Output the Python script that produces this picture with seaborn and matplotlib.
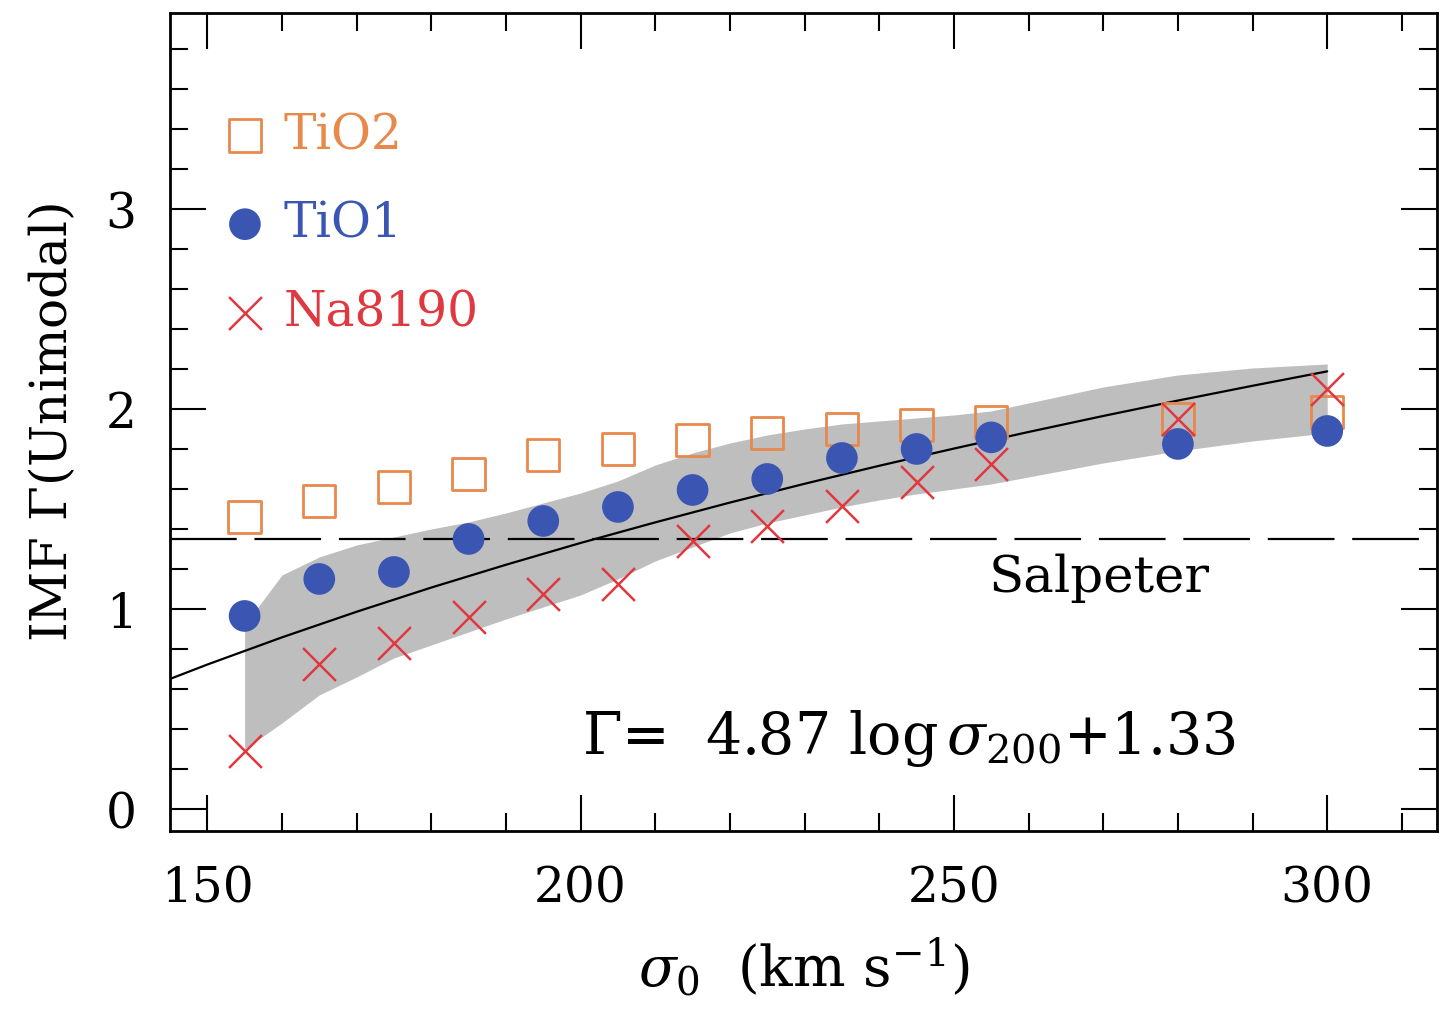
import numpy as np
import pandas as pd
import matplotlib
matplotlib.use("Agg")
import matplotlib.pyplot as plt
from matplotlib.ticker import MultipleLocator
import seaborn as sns

# ---------------- data ----------------
sigma = [155, 165, 175, 185, 195, 205, 215, 225, 235, 245, 255, 280, 300]
tio2 = [1.46, 1.54, 1.61, 1.675, 1.77, 1.80, 1.845, 1.88, 1.90, 1.92, 1.935, 1.95, 1.985]
tio1 = [0.965, 1.15, 1.185, 1.35, 1.44, 1.51, 1.595, 1.65, 1.755, 1.80, 1.858, 1.825, 1.89]
na8190 = [0.29, 0.725, 0.83, 0.958, 1.075, 1.125, 1.34, 1.417, 1.517, 1.633, 1.725, 1.95, 2.10]

band_sigma = [155, 155.01, 160, 165, 170, 175, 180, 185, 190, 195, 200, 205, 210, 215,
              220, 225, 230, 235, 240, 245, 250, 255, 260, 270, 280, 290, 300]
band_low = [0.30, 0.30, 0.43, 0.57, 0.66, 0.755, 0.82, 0.885, 0.95, 1.01, 1.07, 1.15, 1.24, 1.31,
            1.38, 1.43, 1.47, 1.51, 1.545, 1.575, 1.60, 1.625, 1.66, 1.73, 1.79, 1.84, 1.88]
band_high = [0.92, 0.92, 1.17, 1.26, 1.32, 1.36, 1.40, 1.435, 1.48, 1.53, 1.58, 1.64, 1.72, 1.78,
             1.83, 1.87, 1.90, 1.925, 1.94, 1.955, 1.97, 1.99, 2.03, 2.11, 2.17, 2.205, 2.225]

fit_sigma = [145, 150, 160, 170, 180, 190, 200, 210, 220, 230, 240, 250, 260, 270, 280, 290, 300]
fit_gamma = [0.650, 0.722, 0.858, 0.986, 1.107, 1.221, 1.330, 1.433, 1.532, 1.626, 1.716,
             1.802, 1.885, 1.965, 2.042, 2.116, 2.188]

salpeter = 1.35
labels = ["TiO2", "TiO1", "Na8190"]
equation = r"$\Gamma$=  4.87 log$\,\sigma_{200}$+1.33"

# ---------------- style ----------------
sns.set_style("ticks")
plt.rcParams["font.family"] = ["DejaVu Serif"]
plt.rcParams["mathtext.fontset"] = "dejavuserif"
plt.rcParams["text.color"] = "black"
plt.rcParams["axes.labelcolor"] = "black"
plt.rcParams["xtick.labelcolor"] = "black"
plt.rcParams["ytick.labelcolor"] = "black"

c_orange = "#E8894C"
c_blue = "#3A56B2"
c_red = "#E03840"
c_band = "#BEBEBE"

fig = plt.figure(figsize=(14.39, 10.12), dpi=100)
ax = fig.add_axes([0.1181, 0.1779, 0.8805, 0.8083])

ax.fill_between(band_sigma, band_low, band_high, color=c_band, lw=0, zorder=1)

ax.axhline(salpeter, color="black", lw=1.6, dashes=(30, 8), zorder=2)

sns.lineplot(x=fit_sigma, y=fit_gamma, color="black", lw=1.6, ax=ax, zorder=3)

df = pd.DataFrame({"sigma": sigma, "TiO2": tio2, "TiO1": tio1, "Na8190": na8190})

sns.scatterplot(data=df, x="sigma", y="TiO2", marker="s", s=540, facecolor="none",
                edgecolor=c_orange, linewidth=2.0, ax=ax, zorder=4, label=labels[0])
sns.scatterplot(data=df, x="sigma", y="TiO1", marker="o", s=520, color=c_blue,
                edgecolor="none", ax=ax, zorder=5, label=labels[1])
sns.scatterplot(data=df, x="sigma", y="Na8190", marker="x", s=560, color=c_red,
                linewidth=1.8, ax=ax, zorder=6, label=labels[2])

ax.set_xlim(145, 314.7)
ax.set_ylim(-0.11, 3.98)

ax.xaxis.set_major_locator(MultipleLocator(50))
ax.xaxis.set_minor_locator(MultipleLocator(10))
ax.yaxis.set_major_locator(MultipleLocator(1))
ax.yaxis.set_minor_locator(MultipleLocator(0.2))
ax.tick_params(which="both", direction="in", top=True, right=True, color="black",
               width=1.5)
ax.tick_params(which="major", length=26, labelsize=35)
ax.tick_params(axis="x", which="major", pad=24)
ax.tick_params(axis="y", which="major", pad=24)
ax.tick_params(which="minor", length=13)
for sp in ax.spines.values():
    sp.set_linewidth(2.0)
    sp.set_color("black")

ax.set_xlabel(r"$\sigma_0$  (km s$^{-1}$)", fontsize=40, labelpad=17)
ax.set_ylabel(r"IMF $\Gamma$(Unimodal)", fontsize=36, labelpad=20)

ax.text(254.7, 1.16, "Salpeter", fontsize=37, ha="left", va="center")
ax.text(200.2, 0.28, equation, fontsize=41, ha="left", va="baseline")

leg = ax.legend(loc="upper left", bbox_to_anchor=(0.04, 0.88), frameon=False,
                fontsize=35, handletextpad=0.3, labelspacing=0.86, borderpad=0,
                borderaxespad=0, handlelength=1.0,
                labelcolor=[c_orange, c_blue, c_red])

fig.savefig("out.png", dpi=100)
